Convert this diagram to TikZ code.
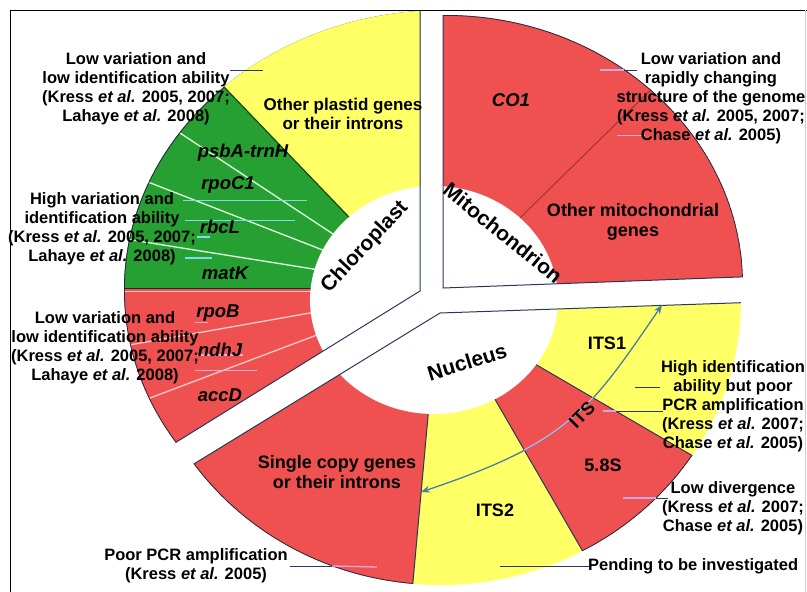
\documentclass[tikz,border=0pt]{standalone}
\usepackage{fontspec}
\setmainfont{Liberation Sans}
\usetikzlibrary{calc,arrows.meta}
\definecolor{redf}{RGB}{239,80,80}
\definecolor{yelf}{RGB}{255,255,102}
\definecolor{grnf}{RGB}{38,160,50}
\definecolor{navy}{RGB}{40,56,92}
\definecolor{cyanl}{RGB}{125,220,235}
\definecolor{pinkl}{RGB}{238,170,215}
\definecolor{lav}{RGB}{205,170,228}
\definecolor{steel}{RGB}{70,128,160}
\newcommand{\myea}{\textit{et al.}}
\begin{document}
\begin{tikzpicture}[x=1pt,y=-1pt,
  lab/.style={font=\fontsize{16.5}{19}\selectfont\bfseries, align=center, inner sep=0pt},
  inlab/.style={font=\fontsize{18}{19.5}\selectfont\bfseries, align=center, inner sep=0pt},
  gene/.style={font=\fontsize{18.5}{20}\selectfont\bfseries\itshape, inner sep=0pt},
  org/.style={font=\fontsize{21}{22}\selectfont\bfseries, inner sep=0pt},
  edge/.style={navy, line width=1pt},
  lead/.style={navy, line width=1pt},
  gline/.style={green!12!white, line width=1.3pt},
  rline/.style={red!20!white, line width=1.3pt},
  rim/.style={navy!80!black, line width=1.6pt}]
\useasboundingbox (0,0) rectangle (807,592);
\fill[white] (0,0) rectangle (807,592);

\coordinate (OC) at (445,290);
\coordinate (OM) at (445,285);
\coordinate (ON) at (440,300);
\coordinate (IC) at (434,300);

% ---------------- Chloroplast ----------------
\coordinate (yg1) at (428.5,300); \coordinate (yg2) at (131,-10);
\coordinate (c1a) at (327,230); \coordinate (c1b) at (180,133);
\coordinate (c2a) at (315,247); \coordinate (c2b) at (148,182);
\coordinate (c3a) at (307,268); \coordinate (c3b) at (132,240);
\coordinate (c4a) at (310,313); \coordinate (c4b) at (197,333);
\coordinate (c5a) at (317,335); \coordinate (c5b) at (150,398);
\begin{scope}
  \clip (420,291) -- (420,-10) -- (-10,-10) -- (-10,557.6) -- cycle;
  \clip (OC) ellipse [x radius=321pt, y radius=280pt];
  \fill[redf] (-10,-10) rectangle (500,600);
  \fill[grnf] (-10,-10) rectangle (500,289);
  \fill[yelf] (yg1) -- (yg2) -- (500,-10) -- (500,300) -- cycle;
  \draw[grnf!45!black, line width=1.2pt] (yg1) -- (yg2);
  \draw[gline] ($(c1a)!-0.8!(c1b)$) -- ($(c1a)!2!(c1b)$);
  \draw[gline] ($(c2a)!-0.8!(c2b)$) -- ($(c2a)!2!(c2b)$);
  \draw[gline] ($(c3a)!-0.8!(c3b)$) -- ($(c3a)!2!(c3b)$);
  \draw[black!85, line width=1.3pt] (-10,288.5) -- (500,288.5);
  \draw[rline] (-10,291.5) -- (500,291.5);
  \draw[rline] ($(c4a)!-1!(c4b)$) -- ($(c4a)!2.5!(c4b)$);
  \draw[rline] ($(c5a)!-0.8!(c5b)$) -- ($(c5a)!2!(c5b)$);
  \begin{scope}
    \clip (yg1) -- (yg2) -- (-10,-10) -- (-10,620) -- (500,620) -- cycle;
    \draw[rim] (OC) ellipse [x radius=321pt, y radius=280pt];
  \end{scope}
\end{scope}

% ---------------- Mitochondrion ----------------
\coordinate (m1) at (525,213); \coordinate (m2) at (627,113);
\begin{scope}
  \clip (443,288) -- (443,-10) -- (820,-10) -- (820,274) -- cycle;
  \clip (OM) ellipse [x radius=298pt, y radius=270pt];
  \fill[redf] (OM) ellipse [x radius=298pt, y radius=270pt];
  \draw[redf!65!black, line width=0.9pt] ($(m1)!-1!(m2)$) -- ($(m1)!2!(m2)$);
  \draw[rim] (OM) ellipse [x radius=298pt, y radius=270pt];
\end{scope}

% ---------------- Nucleus ----------------
\coordinate (n1) at (438.6,300); \coordinate (n2) at (407.7,640);
\coordinate (n3) at (444,311); \coordinate (n4) at (634,640); \coordinate (n5) at (820,530);
\begin{scope}
  \clip (440,313) -- (820,300) -- (820,620) -- (-10,620) -- (-10,589) -- cycle;
  \clip (ON) ellipse [x radius=301pt, y radius=285pt];
  \fill[yelf] (-10,-10) rectangle (820,620);
  \begin{scope}
    \clip (n1) -- (n2) -- (-10,640) -- (-10,300) -- cycle;
    \fill[redf] (ON) ellipse [x radius=301pt, y radius=285pt];
    \draw[rim] (ON) ellipse [x radius=301pt, y radius=285pt];
  \end{scope}
  \begin{scope}
    \clip (n3) -- (n4) -- (820,640) -- (n5) -- cycle;
    \fill[redf] (ON) ellipse [x radius=301pt, y radius=285pt];
    \draw[rim] (ON) ellipse [x radius=301pt, y radius=285pt];
  \end{scope}
  \draw[edge] (n1) -- (n2);
  \draw[edge] (n4) -- (n3) -- (n5);
\end{scope}

% ---------------- centre ----------------
\fill[white] (IC) ellipse [x radius=124pt, y radius=114pt];

\begin{scope}
  \clip (OC) ellipse [x radius=321pt, y radius=280pt];
  \draw[edge] (420,-10) -- (420,291) -- (-10,557.6);
\end{scope}
\begin{scope}
  \clip (OM) ellipse [x radius=298pt, y radius=270pt];
  \draw[edge] (443,-10) -- (443,288) -- (820,274);
\end{scope}
\begin{scope}
  \clip (ON) ellipse [x radius=301pt, y radius=285pt];
  \draw[edge] (820,300) -- (440,313) -- (-10,589);
\end{scope}

% ---------------- ITS arrow ----------------
\coordinate (itsT) at (662,305); \coordinate (itsB) at (421,492);
\draw[steel, line width=1.3pt, {Stealth[length=9pt,width=7pt]}-{Stealth[length=9pt,width=7pt]}]
  (itsB) .. controls (570,442) and (590,410) .. (itsT);
\begin{scope}
  \clip (n3) -- (n4) -- (820,640) -- (n5) -- cycle;
  \draw[lav, line width=1.3pt] (itsB) .. controls (570,442) and (590,410) .. (itsT);
\end{scope}

% ---------------- frame ----------------
\draw[black, line width=1pt] (10,592) -- (10,10) -- (807,10);
\draw[black!20, line width=0.8pt] (805,10) -- (805,592);

% ---------------- leader lines ----------------
\coordinate (a1) at (230,70); \coordinate (a2) at (263,70);
\draw[lead] (a1) -- (a2);
\coordinate (b1) at (183,200.5); \coordinate (b2) at (307,200.5);
\coordinate (b3) at (185,220.5); \coordinate (b4) at (295,220.5);
\coordinate (b5) at (197,237); \coordinate (b6) at (210,237);
\coordinate (b7) at (185,258); \coordinate (b8) at (212,258);
\draw[cyanl, line width=1.3pt] (b1) -- (b2);
\draw[cyanl, line width=1.3pt] (b3) -- (b4);
\draw[cyanl, line width=1.3pt] (b5) -- (b6);
\draw[cyanl, line width=1.3pt] (b7) -- (b8);
\coordinate (d1) at (195,322.5); \coordinate (d2) at (208,322.5);
\coordinate (d3) at (197,355); \coordinate (d4) at (243,355);
\coordinate (d5) at (195,370.5); \coordinate (d6) at (257,370.5);
\draw[pinkl, line width=1.3pt] (d1) -- (d2);
\draw[pinkl, line width=1.3pt] (d3) -- (d4);
\draw[pinkl, line width=1.3pt] (d5) -- (d6);
\coordinate (e1) at (290,566); \coordinate (e2) at (332,566); \coordinate (e3) at (377,567);
\draw[lead] (e1) -- (e2);
\draw[pinkl, line width=1.3pt] (e2) -- (e3);
\coordinate (f1) at (600,70); \coordinate (f2) at (624,70); \coordinate (f3) at (637,70);
\draw[lav, line width=1.3pt] (f1) -- (f2);
\draw[lead] (f2) -- (f3);
\coordinate (f4) at (617,135); \coordinate (f5) at (645,135);
\draw[lav, line width=1pt] (f4) -- (f5);
\coordinate (g1) at (635,387); \coordinate (g2) at (660,387);
\draw[lead] (g1) -- (g2);
\coordinate (g3) at (603,411); \coordinate (g4) at (616,411); \coordinate (g5) at (663,411);
\draw[lav, line width=1.3pt] (g3) -- (g4);
\draw[lead] (g4) -- (g5);
\coordinate (h1) at (623,498); \coordinate (h2) at (656,498); \coordinate (h3) at (668,498);
\draw[lav, line width=1.3pt] (h1) -- (h2);
\draw[lead] (h2) -- (h3);
\coordinate (p1) at (500,566); \coordinate (p2) at (590,566);
\draw[lead] (p1) -- (p2);

% ---------------- texts ----------------
\node[lab] (tl) at (136,89) {Low variation and\\low identification ability\\(Kress \myea{} 2005, 2007;\\Lahaye \myea{} 2008)};
\node[lab] (hv) at (102,229) {High variation and\\identification ability\\(Kress \myea{} 2005, 2007;\\Lahaye \myea{} 2008)};
\node[lab] (ll) at (105,347.5) {Low variation and\\low identification ability\\(Kress \myea{} 2005, 2007;\\Lahaye \myea{} 2008)};
\node[lab] (poor) at (196,566) {Poor PCR amplification\\(Kress \myea{} 2005)};
\node[lab] (mt) at (711,98.5) {Low variation and\\rapidly changing\\structure of the genome\\(Kress \myea{} 2005, 2007;\\Chase \myea{} 2005)};
\node[lab] (hi) at (733,406.5) {High identification\\ability but poor\\PCR amplification\\(Kress \myea{} 2007;\\Chase \myea{} 2005)};
\node[lab] (ld) at (733,508) {Low divergence\\(Kress \myea{} 2007;\\Chase \myea{} 2005)};
\node[lab, anchor=west] (pend) at (588,566) {Pending to be investigated};

\node[inlab, font=\fontsize{17}{19}\selectfont\bfseries] (plastid) at (343,114) {Other plastid genes\\or their introns};
\node[inlab] (othm) at (633,222) {Other mitochondrial\\genes};
\node[inlab] (single) at (337,472) {Single copy genes\\or their introns};
\node[inlab] (its1) at (607,343) {ITS1};
\node[inlab] (s58) at (603,465) {5.8S};
\node[inlab] (its2) at (495,510) {ITS2};
\node[inlab, rotate=45] (its) at (582,415) {ITS};

\node[gene] (co1) at (511,100) {CO1};
\node[gene] (psba) at (243,153) {psbA-trnH};
\node[gene] (rpoc) at (228,185) {rpoC1};
\node[gene] (rbcl) at (220,227) {rbcL};
\node[gene] (matk) at (225,273) {matK};
\node[gene] (rpob) at (218,313) {rpoB};
\node[gene] (ndhj) at (220,350) {ndhJ};
\node[gene] (accd) at (220,395) {accD};

\node[org, rotate=47] (chl) at (365,247) {Chloroplast};
\node[org, rotate=-39] (mit) at (503,233) {Mitochondrion};
\node[org, rotate=17] (nuc) at (467,362) {Nucleus};
\end{tikzpicture}
\end{document}
